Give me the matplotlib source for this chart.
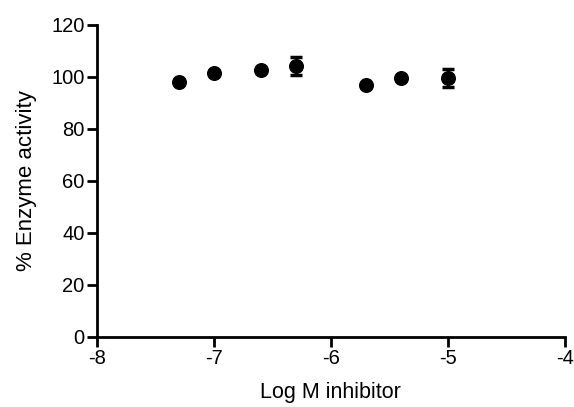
import matplotlib
matplotlib.use("Agg")
import matplotlib.pyplot as plt

plt.rcParams['font.family'] = ['Liberation Sans', 'DejaVu Sans']
plt.rcParams['axes.unicode_minus'] = False

# log molar inhibitor concentration
log_conc = [-7.3, -7.0, -6.6, -6.3, -5.7, -5.4, -5.0]
activity = [98.2, 101.4, 102.7, 104.2, 96.9, 99.5, 99.5]
sem = [0.5, 0.5, 0.5, 3.3, 0.5, 0.5, 3.5]

x_ticks = [-8, -7, -6, -5, -4]
y_ticks = [0, 20, 40, 60, 80, 100, 120]

fig = plt.figure(figsize=(5.74, 4.07), dpi=100)
ax = fig.add_axes([0.169, 0.172, 0.815, 0.767])

ax.errorbar(log_conc, activity, yerr=sem, fmt='none', ecolor='black',
            capsize=4.6, elinewidth=1.8, capthick=2.5, zorder=2)
ax.plot(log_conc, activity, 'o', color='black', markersize=9.8, zorder=3)

ax.set_xlim(-8, -4)
ax.set_ylim(0, 120)
ax.set_xticks(x_ticks)
ax.set_yticks(y_ticks)
ax.spines['top'].set_visible(False)
ax.spines['right'].set_visible(False)
for s in ['left', 'bottom']:
    ax.spines[s].set_linewidth(2)
ax.tick_params(width=2, length=7, labelsize=14.5, pad=2)
ax.set_xlabel('Log M inhibitor', fontsize=15.5, labelpad=10)
ax.set_ylabel('% Enzyme activity', fontsize=16, labelpad=10)

fig.savefig('out.png', dpi=100)
